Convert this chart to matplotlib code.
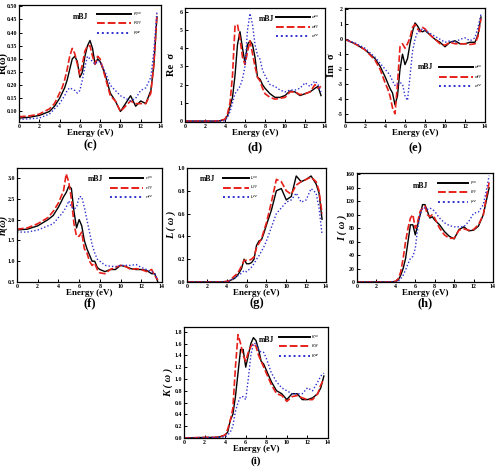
import matplotlib
matplotlib.use("Agg")
import matplotlib.pyplot as plt

plt.rcParams['font.family'] = ['Liberation Serif', 'DejaVu Serif']

energy = [0, 1, 2, 3, 3.5, 4, 4.25, 4.5, 4.75, 5, 5.25, 5.5, 5.75, 6, 6.25, 6.5, 6.75,
          7, 7.25, 7.5, 7.75, 8, 8.5, 9, 9.5, 10, 10.5, 11, 11.5, 12, 12.5, 13, 13.3, 13.6]

# (c) reflectivity
R_xx = [0.075, 0.078, 0.085, 0.10, 0.12, 0.15, 0.17, 0.19, 0.22, 0.26, 0.30, 0.31, 0.29, 0.23, 0.25, 0.31, 0.35,
        0.37, 0.34, 0.28, 0.30, 0.29, 0.24, 0.17, 0.14, 0.10, 0.13, 0.16, 0.12, 0.14, 0.13, 0.18, 0.28, 0.46]
R_yy = [0.08, 0.083, 0.09, 0.11, 0.13, 0.17, 0.19, 0.22, 0.26, 0.31, 0.34, 0.32, 0.28, 0.24, 0.28, 0.33, 0.35,
        0.35, 0.31, 0.28, 0.31, 0.30, 0.23, 0.16, 0.14, 0.10, 0.12, 0.14, 0.13, 0.13, 0.13, 0.17, 0.28, 0.47]
R_zz = [0.07, 0.072, 0.075, 0.09, 0.11, 0.13, 0.145, 0.16, 0.18, 0.19, 0.185, 0.18, 0.17, 0.18, 0.22, 0.27, 0.31,
        0.30, 0.29, 0.28, 0.29, 0.29, 0.25, 0.20, 0.18, 0.16, 0.15, 0.14, 0.15, 0.18, 0.19, 0.23, 0.33, 0.48]

# (d) Re sigma
Re_xx = [0, 0, 0, 0, 0.02, 0.1, 0.3, 0.8, 1.3, 2.5, 4.2, 4.9, 4.0, 3.2, 4.2, 4.4, 4.2,
         3.5, 2.4, 2.3, 2.0, 1.8, 1.5, 1.3, 1.3, 1.4, 1.65, 1.6, 1.4, 1.5, 1.6, 1.8, 1.9, 1.4]
Re_yy = [0, 0, 0, 0, 0.02, 0.1, 0.4, 1.0, 2.5, 5.2, 5.3, 4.5, 3.5, 3.1, 3.8, 4.4, 3.7,
         3.0, 2.4, 2.2, 1.8, 1.5, 1.3, 1.2, 1.25, 1.3, 1.6, 1.6, 1.45, 1.5, 1.6, 2.0, 1.8, 1.9]
Re_zz = [0, 0, 0, 0, 0, 0.02, 0.2, 0.5, 1.0, 1.5, 1.7, 1.9, 2.3, 3.0, 5.0, 5.9, 5.3,
         4.2, 3.6, 3.4, 2.8, 2.5, 2.0, 1.9, 1.7, 1.6, 1.7, 1.7, 1.8, 2.1, 1.9, 2.2, 2.0, 1.6]

# (e) Im sigma
Im_xx = [0, -0.3, -0.7, -1.3, -1.8, -2.5, -2.9, -3.3, -3.6, -4.4, -3.8, -2.0, -1.0, -1.7, -1.3, -0.3, 0.5,
         1.1, 0.9, 0.6, 0.5, 0.6, 0.3, 0.0, -0.2, -0.5, -0.2, -0.1, -0.3, -0.3, -0.2, -0.2, 0.3, 1.5]
Im_yy = [0, -0.3, -0.7, -1.4, -2.0, -2.9, -3.3, -3.8, -4.6, -5.0, -3.0, -0.5, -0.3, -0.6, -0.3, 0.1, 0.8,
         1.0, 0.7, 0.5, 0.8, 0.7, 0.3, 0.0, -0.3, -0.4, -0.2, -0.3, -0.3, -0.3, -0.35, -0.3, 0.2, 1.4]
Im_zz = [0, -0.25, -0.6, -1.2, -1.6, -2.0, -2.2, -2.4, -2.8, -3.1, -3.0, -2.9, -3.0, -3.8, -4.1, -2.5, -0.8,
         0.0, 0.5, 0.6, 0.7, 0.6, 0.4, 0.2, 0.0, -0.2, -0.1, -0.2, 0.0, 0.1, -0.1, 0.1, 0.8, 1.7]

# (f) refractive index
n_xx = [1.75, 1.77, 1.85, 2.0, 2.1, 2.3, 2.42, 2.55, 2.65, 2.8, 2.75, 2.2, 1.8, 2.0, 1.85, 1.5, 1.3,
        1.15, 1.0, 1.0, 0.85, 0.8, 0.75, 0.8, 0.8, 0.9, 0.87, 0.82, 0.8, 0.8, 0.78, 0.7, 0.7, 0.5]
n_yy = [1.77, 1.8, 1.9, 2.05, 2.2, 2.4, 2.55, 2.7, 3.1, 2.9, 2.5, 1.9, 1.6, 1.6, 1.7, 1.3, 1.2,
        1.0, 0.9, 0.95, 0.8, 0.72, 0.7, 0.8, 0.85, 0.9, 0.87, 0.8, 0.82, 0.8, 0.75, 0.8, 0.65, 0.55]
n_zz = [1.7, 1.7, 1.75, 1.85, 1.9, 2.05, 2.12, 2.2, 2.3, 2.45, 2.3, 2.25, 2.3, 2.55, 2.55, 2.3, 2.0,
        1.7, 1.4, 1.2, 1.05, 1.0, 0.9, 0.88, 0.87, 0.9, 0.9, 0.9, 0.92, 0.85, 0.8, 0.75, 0.7, 0.55]

# (g) energy loss
L_xx = [0, 0, 0, 0, 0, 0.005, 0.01, 0.02, 0.03, 0.05, 0.08, 0.12, 0.20, 0.16, 0.16, 0.17, 0.20,
        0.32, 0.36, 0.37, 0.43, 0.50, 0.63, 0.80, 0.82, 0.72, 0.75, 0.93, 0.88, 0.90, 0.93, 0.86, 0.78, 0.55]
L_yy = [0, 0, 0, 0, 0, 0.005, 0.01, 0.03, 0.05, 0.07, 0.10, 0.14, 0.19, 0.19, 0.19, 0.20, 0.22,
        0.30, 0.34, 0.38, 0.45, 0.52, 0.70, 0.90, 0.88, 0.80, 0.77, 0.85, 0.88, 0.90, 0.92, 0.88, 0.80, 0.60]
L_zz = [0, 0, 0, 0, 0, 0, 0.005, 0.02, 0.03, 0.05, 0.06, 0.08, 0.10, 0.09, 0.11, 0.13, 0.16,
        0.20, 0.23, 0.27, 0.31, 0.36, 0.48, 0.60, 0.65, 0.70, 0.72, 0.78, 0.70, 0.72, 0.82, 0.78, 0.65, 0.42]

# (h) absorption
I_xx = [0, 0, 0, 0, 0, 1, 3, 10, 20, 35, 60, 85, 85, 70, 85, 100, 115,
        115, 105, 95, 97, 92, 85, 75, 68, 64, 78, 82, 76, 77, 83, 100, 120, 140]
I_yy = [0, 0, 0, 0, 0, 1, 5, 15, 35, 60, 80, 95, 100, 80, 90, 105, 110,
        113, 100, 97, 100, 95, 80, 70, 65, 65, 77, 79, 77, 78, 85, 100, 125, 148]
I_zz = [0, 0, 0, 0, 0, 0, 1, 5, 10, 18, 27, 35, 38, 50, 80, 100, 110,
        110, 108, 110, 108, 105, 95, 88, 84, 82, 82, 82, 90, 102, 104, 115, 135, 158]

# (i) extinction coefficient
K_xx = [0, 0.005, 0.01, 0.01, 0.02, 0.05, 0.1, 0.3, 0.4, 0.7, 1.1, 1.5, 1.5, 1.2, 1.4, 1.6, 1.7,
        1.65, 1.5, 1.3, 1.25, 1.15, 0.95, 0.8, 0.75, 0.65, 0.75, 0.75, 0.65, 0.65, 0.68, 0.75, 0.85, 1.05]
K_yy = [0, 0.005, 0.01, 0.01, 0.02, 0.05, 0.15, 0.3, 0.5, 1.2, 1.75, 1.6, 1.4, 1.3, 1.45, 1.55, 1.6,
        1.55, 1.4, 1.3, 1.2, 1.1, 0.9, 0.75, 0.72, 0.62, 0.7, 0.72, 0.68, 0.65, 0.65, 0.75, 0.9, 1.0]
K_zz = [0, 0, 0.005, 0.01, 0.01, 0.02, 0.05, 0.1, 0.2, 0.45, 0.6, 0.7, 0.7, 0.65, 1.0, 1.4, 1.6,
        1.6, 1.5, 1.45, 1.45, 1.35, 1.1, 0.95, 0.85, 0.8, 0.75, 0.75, 0.75, 0.85, 0.80, 0.95, 1.05, 1.1]

W, H = 499, 467
fig = plt.figure(figsize=(W / 100, H / 100), dpi=100)


def box(x0, y0, x1, y1):
    return [x0 / W, 1 - y1 / H, (x1 - x0) / W, (y1 - y0) / H]


def panel(rect, ys, labels, ylim, yticks, yfmt, ylabel, ylab_x, tag, tag_y,
          leg_anchor, mbj_xy, italic=False, hlen=7.5, tag_size=9):
    ax = fig.add_axes(box(*rect))
    ax.plot(energy, ys[0], color='black', lw=1.0, ls='-', label=labels[0])
    ax.plot(energy, ys[1], color='#e8201a', lw=1.2, ls=(0, (4, 1.5)), label=labels[1])
    ax.plot(energy, ys[2], color='#3030d0', lw=1.0, ls=(0, (1, 1.5)), label=labels[2])
    ax.set_xlim(0, 14)
    ax.set_ylim(*ylim)
    ax.set_xticks([0, 2, 4, 6, 8, 10, 12, 14])
    ax.set_yticks(yticks)
    ax.set_yticklabels([yfmt.format(v) for v in yticks])
    ax.tick_params(direction='in', length=2, width=0.7, labelsize=4.2, pad=1.5)
    for lab in ax.get_xticklabels() + ax.get_yticklabels():
        lab.set_fontweight('bold')
    for s in ax.spines.values():
        s.set_linewidth(0.9)
    ax.set_xlabel('Energy (eV)', fontsize=6.5, fontweight='bold', labelpad=0)
    fig.text(ylab_x / W, 1 - (rect[1] + rect[3]) / 2 / H, ylabel, rotation=90,
             ha='center', va='center', fontsize=7.5, fontweight='bold',
             style='italic' if italic else 'normal')
    leg = ax.legend(loc='upper left', bbox_to_anchor=leg_anchor, frameon=False,
                    fontsize=3.2, handlelength=hlen, handletextpad=0.4,
                    labelspacing=0.35, borderaxespad=0)
    for ln in leg.get_lines():
        ln.set_linewidth(1.4)
    ax.text(mbj_xy[0], mbj_xy[1], 'mBJ', transform=ax.transAxes, fontsize=5.5,
            fontweight='bold', ha='left', va='center')
    fig.text((rect[0] + rect[2]) / 2 / W, 1 - tag_y / H, tag, ha='center', va='center',
             fontsize=tag_size, fontweight='bold')
    return ax


panel((19, 5, 161, 122), (R_xx, R_yy, R_zz), ('$R^{xx}$', '$R^{yy}$', '$R^{zz}$'),
      (0.06, 0.505), [0.10, 0.15, 0.20, 0.25, 0.30, 0.35, 0.40, 0.45, 0.50], '{:.2f}',
      'R(ω)', 3, '(c)', 145, (0.54, 0.97), (0.38, 0.9))

panel((185, 8, 325, 122), (Re_xx, Re_yy, Re_zz), ('$σ^{xx}$', '$σ^{yy}$', '$σ^{zz}$'),
      (-0.05, 6.2), [0, 1, 2, 3, 4, 5, 6], '{:d}',
      'Re  σ', 171, '(d)', 147, (0.64, 0.97), (0.53, 0.9))

panel((345, 8, 485, 122), (Im_xx, Im_yy, Im_zz), ('$σ^{xx}$', '$σ^{yy}$', '$σ^{zz}$'),
      (-5.55, 2.1), [-5, -4, -3, -2, -1, 0, 1, 2], '{:d}',
      'Im  σ', 332, '(e)', 148, (0.66, 0.53), (0.52, 0.48))

panel((17, 168, 162, 282), (n_xx, n_yy, n_zz), ('$n^{xx}$', '$n^{yy}$', '$n^{zz}$'),
      (0.5, 3.24), [0.5, 1.0, 1.5, 2.0, 2.5, 3.0], '{:.1f}',
      'n(ω)', 3, '(f)', 303, (0.63, 0.96), (0.49, 0.9), italic=True)

panel((187, 168, 326, 282), (L_xx, L_yy, L_zz), ('$L^{xx}$', '$L^{yy}$', '$L^{zz}$'),
      (0, 1.0), [0.0, 0.2, 0.4, 0.6, 0.8, 1.0], '{:.1f}',
      'L ( ω )', 171, '(g)', 303, (0.245, 0.96), (0.09, 0.9), italic=True, hlen=5.8)

panel((357, 173, 493, 282), (I_xx, I_yy, I_zz), ('$I^{xx}$', '$I^{yy}$', '$I^{zz}$'),
      (0, 162), [0, 20, 40, 60, 80, 100, 120, 140, 160], '{:d}',
      'I ( ω )', 342, '(h)', 303, (0.58, 0.96), (0.41, 0.88), italic=True, hlen=6.8)

panel((184, 327, 328, 438), (K_xx, K_yy, K_zz), ('$K^{xx}$', '$K^{yy}$', '$K^{zz}$'),
      (0, 1.88), [0.0, 0.2, 0.4, 0.6, 0.8, 1.0, 1.2, 1.4, 1.6, 1.8], '{:.1f}',
      'K ( ω )', 168, '(i)', 461, (0.65, 0.96), (0.52, 0.88), italic=True, hlen=6.8,
      tag_size=8)

fig.savefig('out.png', dpi=100)
